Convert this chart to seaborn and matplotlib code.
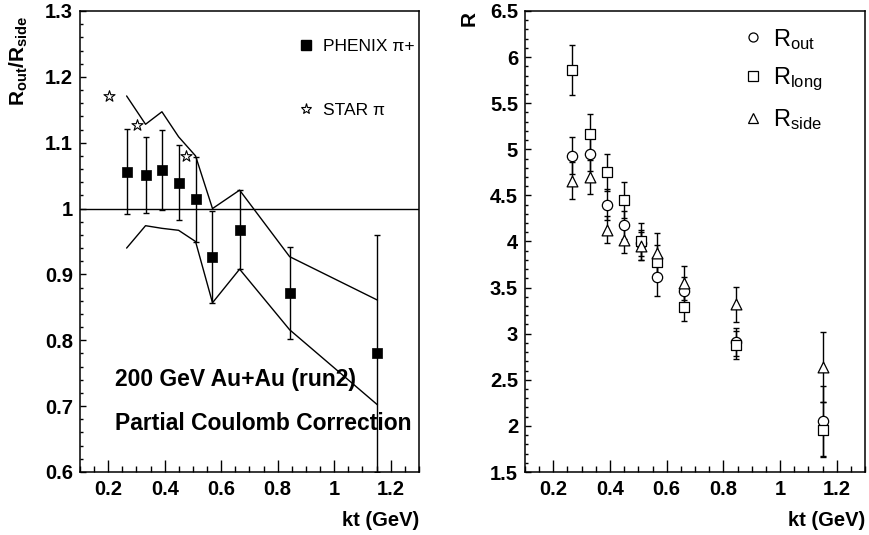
import matplotlib
matplotlib.use("Agg")
import matplotlib.pyplot as plt
import seaborn as sns
from matplotlib.ticker import MultipleLocator
from matplotlib.lines import Line2D

# ---------------- data ----------------
kt_phenix = [0.265, 0.332, 0.390, 0.449, 0.509, 0.569, 0.665, 0.842, 1.153]
ratio_phenix = [1.056, 1.051, 1.059, 1.039, 1.014, 0.927, 0.968, 0.872, 0.780]
ratio_err = [0.065, 0.057, 0.061, 0.057, 0.064, 0.070, 0.060, 0.070, 0.180]
kt_star = [0.202, 0.302, 0.476]
ratio_star = [1.171, 1.127, 1.080]
band_upper = [1.171, 1.128, 1.147, 1.109, 1.080, 1.000, 1.028, 0.927, 0.861]
band_lower = [0.940, 0.974, 0.970, 0.967, 0.950, 0.857, 0.908, 0.816, 0.702]

kt_radii = [0.265, 0.330, 0.391, 0.450, 0.509, 0.567, 0.661, 0.844, 1.153]
r_out = [4.93, 4.95, 4.40, 4.18, 3.98, 3.61, 3.46, 2.91, 2.05]
r_out_err = [0.20, 0.18, 0.17, 0.15, 0.14, 0.20, 0.16, 0.15, 0.38]
r_long = [5.86, 5.17, 4.75, 4.45, 4.00, 3.78, 3.29, 2.88, 1.96]
r_long_err = [0.27, 0.21, 0.20, 0.20, 0.20, 0.18, 0.15, 0.15, 0.30]
r_side = [4.66, 4.70, 4.13, 4.02, 3.95, 3.87, 3.55, 3.32, 2.64]
r_side_err = [0.20, 0.18, 0.15, 0.14, 0.15, 0.22, 0.18, 0.19, 0.38]

left_texts = ["200 GeV Au+Au (run2)", "Partial Coulomb Correction"]

# ---------------- style ----------------
sns.set_theme(style="ticks")
FONT = "Liberation Sans"
plt.rcParams["font.family"] = [FONT, "DejaVu Sans"]
plt.rcParams["mathtext.fontset"] = "custom"
plt.rcParams["mathtext.rm"] = FONT
plt.rcParams["mathtext.it"] = FONT + ":italic"
plt.rcParams["mathtext.bf"] = FONT + ":bold"
plt.rcParams["axes.linewidth"] = 1.1
plt.rcParams["text.color"] = "black"
plt.rcParams["axes.labelcolor"] = "black"
plt.rcParams["xtick.color"] = "black"
plt.rcParams["ytick.color"] = "black"

fig = plt.figure(figsize=(8.7, 5.35), dpi=100)
ax1 = fig.add_axes([80 / 870, 63 / 535, 339 / 870, 461 / 535])
ax2 = fig.add_axes([525 / 870, 63 / 535, 340 / 870, 461 / 535])


def style_axis(ax, ymajor, yminor):
    for s in ax.spines.values():
        s.set_color("black")
        s.set_linewidth(1.1)
    ax.set_xlim(0.1, 1.3)
    ax.xaxis.set_major_locator(MultipleLocator(0.2))
    ax.xaxis.set_minor_locator(MultipleLocator(0.05))
    ax.yaxis.set_major_locator(MultipleLocator(ymajor))
    ax.yaxis.set_minor_locator(MultipleLocator(yminor))
    ax.tick_params(axis="both", which="both", direction="in", top=False,
                   right=False, color="black", labelcolor="black", width=1)
    ax.tick_params(axis="x", which="major", length=9, pad=6)
    ax.tick_params(axis="x", which="minor", length=4.5)
    ax.tick_params(axis="y", which="major", length=4.5, pad=5)
    ax.tick_params(axis="y", which="minor", length=2.3)
    ax.xaxis.set_major_formatter(plt.FuncFormatter(lambda v, p: f"{v:g}"))
    ax.yaxis.set_major_formatter(plt.FuncFormatter(lambda v, p: f"{v:g}"))
    for lab in ax.get_xticklabels() + ax.get_yticklabels():
        lab.set_fontweight("bold")
        lab.set_fontsize(14.5)
    ax.set_xlabel("kt (GeV)", fontsize=14.5, fontweight="bold", loc="right")
    ax.xaxis.set_label_coords(1.0, -0.085)
    ax.xaxis.label.set_horizontalalignment("right")


# ---------------- left panel ----------------
ax1.set_ylim(0.6, 1.3)
ax1.axhline(1.0, color="black", lw=1)
sns.lineplot(x=kt_phenix, y=band_upper, ax=ax1, color="black", lw=1,
             sort=False, estimator=None)
sns.lineplot(x=kt_phenix, y=band_lower, ax=ax1, color="black", lw=1,
             sort=False, estimator=None)
ax1.errorbar(kt_phenix, ratio_phenix, yerr=ratio_err, fmt="none",
             ecolor="black", elinewidth=1, capsize=2, capthick=1)
sns.scatterplot(x=kt_phenix, y=ratio_phenix, ax=ax1, marker="s", s=55,
                color="black", edgecolor="black", linewidth=0.5, zorder=5)
sns.scatterplot(x=kt_star, y=ratio_star, ax=ax1, marker="*", s=70,
                color="white", edgecolor="black", linewidth=0.8, zorder=5)
style_axis(ax1, 0.1, 0.02)
ax1.set_ylabel(r"$\mathbf{R}_{\mathbf{out}}\mathbf{/R}_{\mathbf{side}}$",
               fontsize=15, loc="top")
ax1.yaxis.set_label_coords(-0.148, 0.99)

h1 = [Line2D([], [], ls="none", marker="s", ms=7, color="black"),
      Line2D([], [], ls="none", marker="*", ms=8, mfc="white", mec="black",
             mew=0.8)]
leg1 = ax1.legend(h1, ["PHENIX \u03c0+", "STAR \u03c0"], loc="upper left",
                  bbox_to_anchor=(0.645, 0.94), frameon=False, fontsize=12.5,
                  handlelength=0.8, handletextpad=0.6, labelspacing=2.85,
                  borderpad=0, borderaxespad=0)

ax1.text(0.103, 0.200, left_texts[0], transform=ax1.transAxes,
         fontsize=16.5, fontweight="bold", ha="left", va="center")
ax1.text(0.103, 0.106, left_texts[1], transform=ax1.transAxes,
         fontsize=16.5, fontweight="bold", ha="left", va="center")

# ---------------- right panel ----------------
ax2.set_ylim(1.5, 6.5)
for r, e in [(r_out, r_out_err), (r_long, r_long_err), (r_side, r_side_err)]:
    ax2.errorbar(kt_radii, r, yerr=e, fmt="none", ecolor="black",
                 elinewidth=1, capsize=2, capthick=1)
for r, m, sz in [(r_out, "o", 55), (r_long, "s", 55), (r_side, "^", 60)]:
    sns.scatterplot(x=kt_radii, y=r, ax=ax2, marker=m, s=sz, color="white",
                    edgecolor="black", linewidth=0.9, zorder=5)
style_axis(ax2, 0.5, 0.1)
ax2.set_ylabel("R", fontsize=15, fontweight="bold", loc="top")
ax2.yaxis.set_label_coords(-0.135, 1.0)

h2 = [Line2D([], [], ls="none", marker=m, ms=6.5, mfc="white", mec="black",
             mew=0.9) for m in ["o", "s", "^"]]
leg2 = ax2.legend(h2, [r"$\mathrm{R}_{\mathrm{out}}$",
                       r"$\mathrm{R}_{\mathrm{long}}$",
                       r"$\mathrm{R}_{\mathrm{side}}$"],
                  loc="upper left", bbox_to_anchor=(0.645, 0.966),
                  frameon=False, fontsize=17, handlelength=0.75,
                  handletextpad=0.45, labelspacing=0.6, borderpad=0,
                  borderaxespad=0)

fig.savefig("out.png", dpi=100)
